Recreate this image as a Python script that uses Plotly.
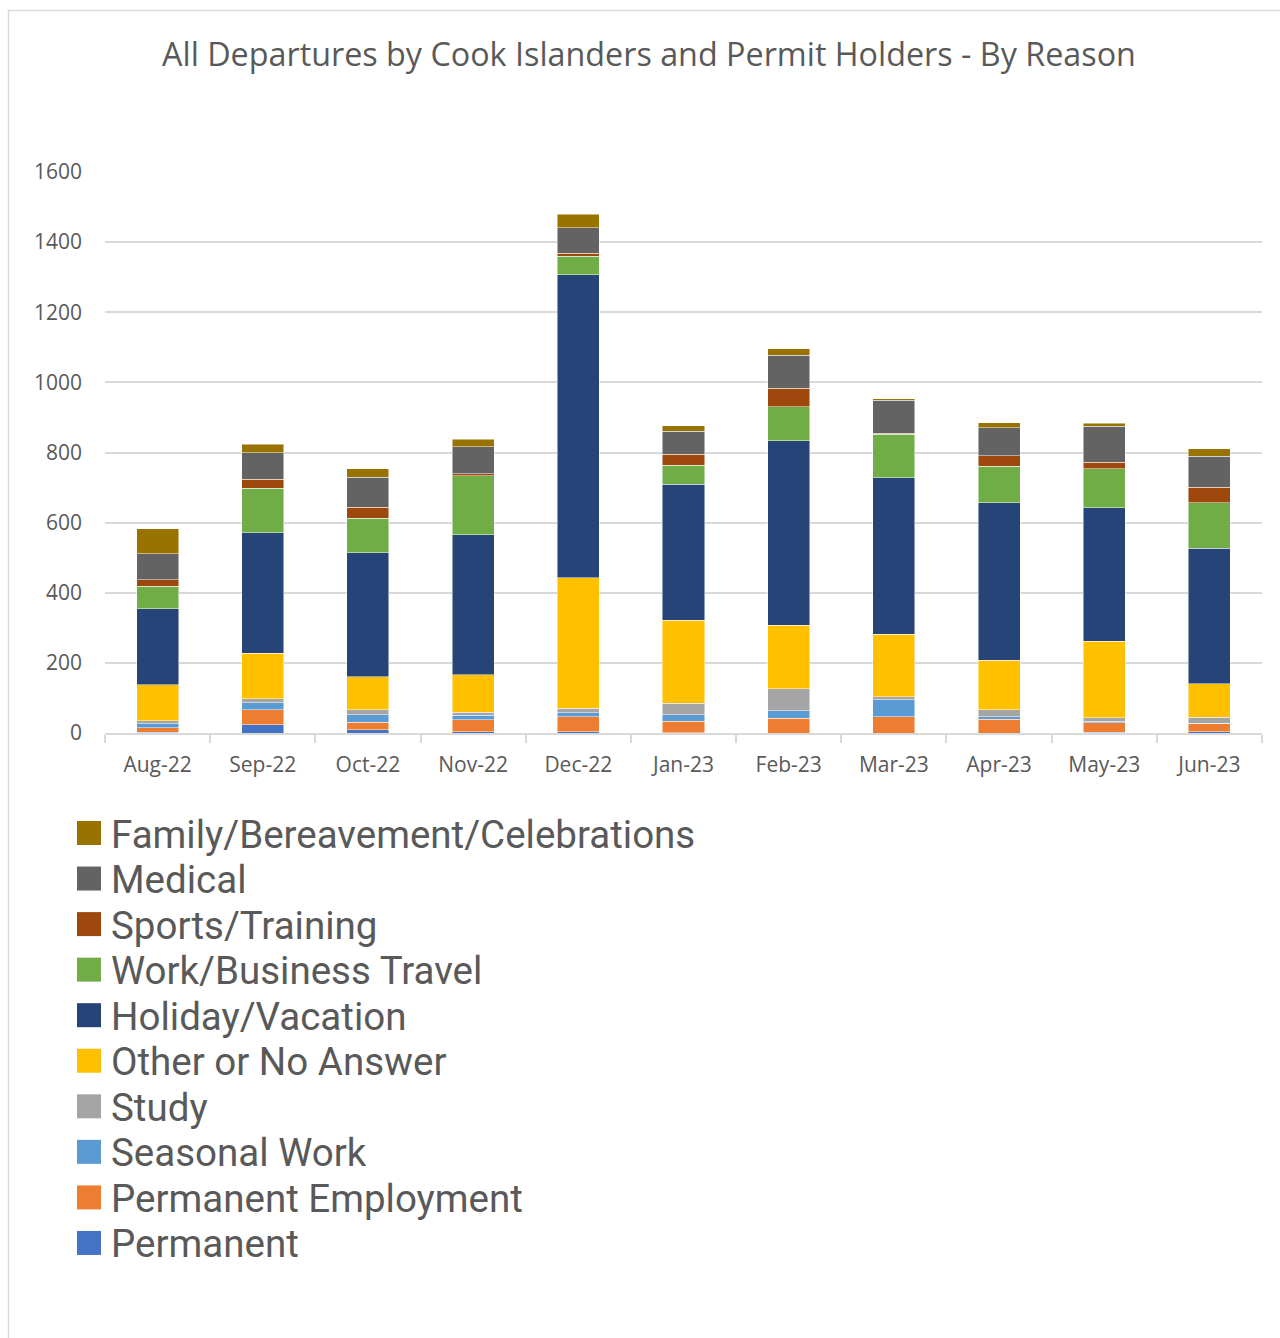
import plotly.graph_objects as go

# Monthly departures, split by stated reason of travel
months = ["Aug-22", "Sep-22", "Oct-22", "Nov-22", "Dec-22", "Jan-23",
          "Feb-23", "Mar-23", "Apr-23", "May-23", "Jun-23"]

permanent = [2, 24, 9, 3, 4, 1, 0, 0, 0, 2, 3]
permanent_employment = [13, 42, 21, 35, 42, 32, 42, 47, 39, 27, 24]
seasonal_work = [12, 20, 22, 13, 12, 19, 21, 48, 7, 4, 1]
study = [8, 11, 15, 8, 13, 33, 63, 8, 20, 11, 17]
other_no_answer = [102, 130, 93, 107, 372, 237, 182, 179, 141, 218, 95]
holiday_vacation = [217, 344, 354, 399, 864, 387, 526, 446, 450, 381, 387]
work_business = [65, 127, 98, 168, 53, 54, 96, 124, 104, 110, 130]
sports_training = [18, 26, 32, 6, 8, 32, 53, 3, 30, 19, 44]
medical = [74, 76, 85, 78, 73, 65, 95, 94, 80, 103, 88]
family_bereavement = [71, 23, 24, 21, 38, 16, 18, 4, 14, 8, 21]

y_ticks = [0, 200, 400, 600, 800, 1000, 1200, 1400, 1600]

# Stacking order, bottom to top
series = [
    ("Permanent", permanent, "#4472C4"),
    ("Permanent Employment", permanent_employment, "#ED7D31"),
    ("Seasonal Work", seasonal_work, "#5B9BD5"),
    ("Study", study, "#A5A5A5"),
    ("Other or No Answer", other_no_answer, "#FFC000"),
    ("Holiday/Vacation", holiday_vacation, "#264478"),
    ("Work/Business Travel", work_business, "#70AD47"),
    ("Sports/Training", sports_training, "#9E480E"),
    ("Medical", medical, "#636363"),
    ("Family/Bereavement/Celebrations", family_bereavement, "#997300"),
]

W, H = 1280, 1338
L, R, T, B = 105, 1262, 172, 733  # plot area in pixels


def px_x(px):
    return (px - L) / (R - L)


def px_y(py):
    return (B - py) / (B - T)


fig = go.Figure()
for name, vals, color in series:
    fig.add_trace(go.Bar(
        x=months, y=vals, name=name,
        marker=dict(color=color, line=dict(color="rgba(255,255,255,0.6)", width=0.8)),
        showlegend=False,
    ))

shapes = []
annotations = []

# Outer chart border (left and top edges visible)
shapes.append(dict(type="rect", xref="paper", yref="paper",
                   x0=px_x(8.5), x1=px_x(1300), y0=px_y(10.5), y1=px_y(1360),
                   line=dict(color="#d9d9d9", width=1.5), fillcolor="rgba(0,0,0,0)",
                   layer="below"))

# Legend, listed top to bottom in reverse stacking order
row0, step = 833, 45.55
for i, (name, vals, color) in enumerate(reversed(series)):
    cy = row0 + i * step
    shapes.append(dict(type="rect", xref="paper", yref="paper",
                       x0=px_x(77), x1=px_x(101), y0=px_y(cy + 12), y1=px_y(cy - 12),
                       line=dict(width=0), fillcolor=color))
    annotations.append(dict(xref="paper", yref="paper", x=px_x(109), y=px_y(cy + 1),
                            xanchor="left", yanchor="middle", showarrow=False,
                            text=name, font=dict(size=38.5, color="#595959",
                                                 family="Roboto")))

fig.update_layout(
    width=W, height=H,
    margin=dict(l=L, r=W - R, t=T, b=H - B, pad=0),
    paper_bgcolor="white", plot_bgcolor="white",
    barmode="stack", bargap=0.6,
    title=dict(text="All Departures by Cook Islanders and Permit Holders - By Reason",
               x=649 / W, xanchor="center", y=1 - 55 / H, yanchor="middle",
               font=dict(size=32.3, color="#595959", family="Open Sans")),
    font=dict(family="Open Sans", color="#595959"),
    xaxis=dict(type="category", showgrid=False, showline=True, linecolor="#d9d9d9",
               linewidth=1.5, ticks="outside", tickson="boundaries", ticklen=8,
               tickcolor="#d9d9d9", tickwidth=1.5, ticklabelstandoff=12,
               tickfont=dict(size=21, color="#595959")),
    yaxis=dict(range=[0, 1600], tickvals=y_ticks, showgrid=True, gridcolor="#d9d9d9",
               gridwidth=1.5, zeroline=False, showline=False, ticks="",
               ticklabelstandoff=22, tickfont=dict(size=21, color="#595959")),
    shapes=shapes,
    annotations=annotations,
)

fig.write_html("out.html")
